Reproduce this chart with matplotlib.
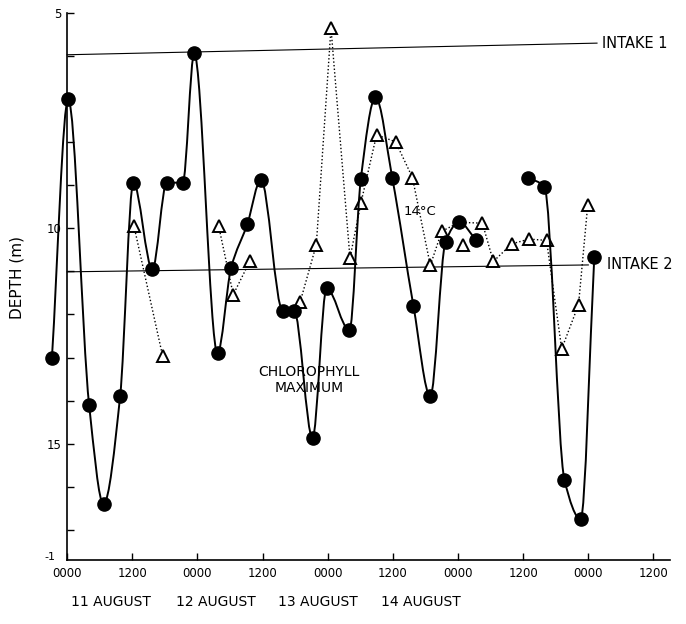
import numpy as np
import matplotlib.pyplot as plt
import matplotlib.transforms as mtransforms
from matplotlib.path import Path
from matplotlib.patches import PathPatch

# depth of chlorophyll maximum (solid circles), hours from 0000 11 August
chl_hours_a = [-2.8, 0.2, 4.05, 6.7, 9.76, 12.2, 15.7, 18.35, 21.3, 23.4, 27.7, 30.2,
               33.2, 35.7, 39.7, 41.8, 45.2, 47.8, 52.0, 54.1, 56.8, 59.9, 63.8, 66.9,
               69.7, 72.2, 75.4]
chl_depth_a = [13.0, 7.0, 14.1, 16.4, 13.9, 8.94, 10.95, 8.94, 8.94, 5.94, 12.9, 10.92,
               9.9, 8.87, 11.91, 11.91, 14.87, 11.39, 12.37, 8.85, 6.96, 8.84, 11.81, 13.9,
               10.31, 9.86, 10.28]
chl_hours_b = [84.9, 87.9, 91.6, 94.6, 97.1]
chl_depth_b = [8.82, 9.03, 15.84, 16.75, 10.67]

# depth of 14 C isotherm (open triangles)
t_hours_1 = [12.3, 17.6]
t_depth_1 = [9.94, 12.97]
t_hours_2 = [27.9, 30.6, 33.7]
t_depth_2 = [9.94, 11.54, 10.75]
t_hours_3 = [42.9, 45.9, 48.6, 52.1, 54.1, 57.0, 60.5, 63.6, 66.9, 69.0, 72.2, 76.5,
             78.5, 81.9, 85.1, 88.3, 91.1, 94.2, 95.9]
t_depth_3 = [11.72, 10.38, 5.35, 10.69, 9.42, 7.83, 7.99, 8.82, 10.86, 10.07, 9.86, 9.88,
             10.77, 10.36, 10.25, 10.28, 12.8, 11.77, 9.45]
t_hours_single = [73.0]
t_depth_single = [10.38]

# intake depths
intake1_hours = [0, 97.6]
intake1_depth = [5.97, 5.70]
intake2_hours = [0, 96.0]
intake2_depth = [11.01, 10.85]

tick_hours = [0, 12, 24, 36, 48, 60, 72, 84, 96, 108]
tick_names = ["0000", "1200"] * 5
day_names = ["11 AUGUST", "12 AUGUST", "13 AUGUST", "14 AUGUST"]
day_pos = [8.1, 27.4, 46.2, 65.2]


def smooth(xs, ys):
    # shape preserving (pchip style) curve through the points, as bezier pieces
    x = np.asarray(xs, float)
    y = np.asarray(ys, float)
    h = np.diff(x)
    d = np.diff(y) / h
    n = len(x)
    m = np.zeros(n)
    m[0] = d[0]
    m[-1] = d[-1]
    for k in range(1, n - 1):
        if d[k - 1] * d[k] > 0:
            w1 = 2 * h[k] + h[k - 1]
            w2 = h[k] + 2 * h[k - 1]
            m[k] = (w1 + w2) / (w1 / d[k - 1] + w2 / d[k])
    verts = [(x[0], y[0])]
    codes = [Path.MOVETO]
    for k in range(n - 1):
        verts += [(x[k] + h[k] / 3, y[k] + m[k] * h[k] / 3),
                  (x[k + 1] - h[k] / 3, y[k + 1] - m[k + 1] * h[k] / 3),
                  (x[k + 1], y[k + 1])]
        codes += [Path.CURVE4] * 3
    return Path(verts, codes)


fig = plt.figure(figsize=(6.86, 6.24), dpi=100)
ax = fig.add_axes([0.0583, 0.1026, 0.918, 0.8766])

ax.plot(intake1_hours, intake1_depth, color='black', lw=0.8, zorder=1)
ax.plot(intake2_hours, intake2_depth, color='black', lw=0.8, zorder=1)

dots = (0, (1, 1.6))
tri = dict(marker='^', ms=9, mfc='white', mec='black', mew=1.4, zorder=2, clip_on=False)
ax.plot(t_hours_1, t_depth_1, ls=dots, color='black', lw=1.0, **tri)
ax.plot(t_hours_2, t_depth_2, ls=dots, color='black', lw=1.0, **tri)
ax.plot(t_hours_3, t_depth_3, ls=dots, color='black', lw=1.0,
        markevery=[i for i in range(len(t_hours_3)) if i != 10], **tri)
ax.plot(t_hours_single, t_depth_single, ls='none', **tri)

for hx, dy in [(chl_hours_a, chl_depth_a), (chl_hours_b, chl_depth_b)]:
    ax.add_patch(PathPatch(smooth(hx, dy), fill=False, ec='black', lw=1.4, zorder=3))
    ax.plot(hx, dy, ls='none', marker='o', ms=9.5, color='black', zorder=4, clip_on=False)

ax.set_xlim(-5, 111)
ax.set_ylim(17.7, 5)

ax.spines['top'].set_visible(False)
ax.spines['right'].set_visible(False)
ax.spines['left'].set_position(('data', 0))
ax.spines['bottom'].set_bounds(0, 111)
ax.spines['left'].set_linewidth(1.2)
ax.spines['bottom'].set_linewidth(1.2)

ax.set_xticks(tick_hours)
ax.set_xticklabels(tick_names, fontsize=8.5)
ax.set_yticks([5, 10, 15])
ax.set_yticklabels(["5", "10", "15"], fontsize=8.5)
ax.set_yticks(np.arange(6, 18), minor=True)
ax.tick_params(axis='both', which='both', direction='in', length=5, width=1)
ax.tick_params(axis='y', pad=4)
ax.tick_params(axis='x', pad=5)

ax.text(-2.2, 17.62, "-1", ha='right', va='center', fontsize=8)

ax.set_ylabel("DEPTH (m)", fontsize=11)
ax.yaxis.set_label_coords(-0.025, 0.517)

ax.text(98.5, 5.72, "INTAKE 1", va='center', fontsize=10.5, clip_on=False)
ax.text(99.4, 10.85, "INTAKE 2", va='center', fontsize=10.5, clip_on=False)
ax.text(65.0, 9.62, "14°C", ha='center', va='center', fontsize=9.5)
ax.text(44.6, 13.52, "CHLOROPHYLL\nMAXIMUM", ha='center', va='center', fontsize=10,
        linespacing=1.25)

trans = mtransforms.blended_transform_factory(ax.transData, ax.transAxes)
for name, pos in zip(day_names, day_pos):
    ax.text(pos, -0.077, name, transform=trans, ha='center', va='center', fontsize=10)

fig.savefig("out.png", dpi=100)
